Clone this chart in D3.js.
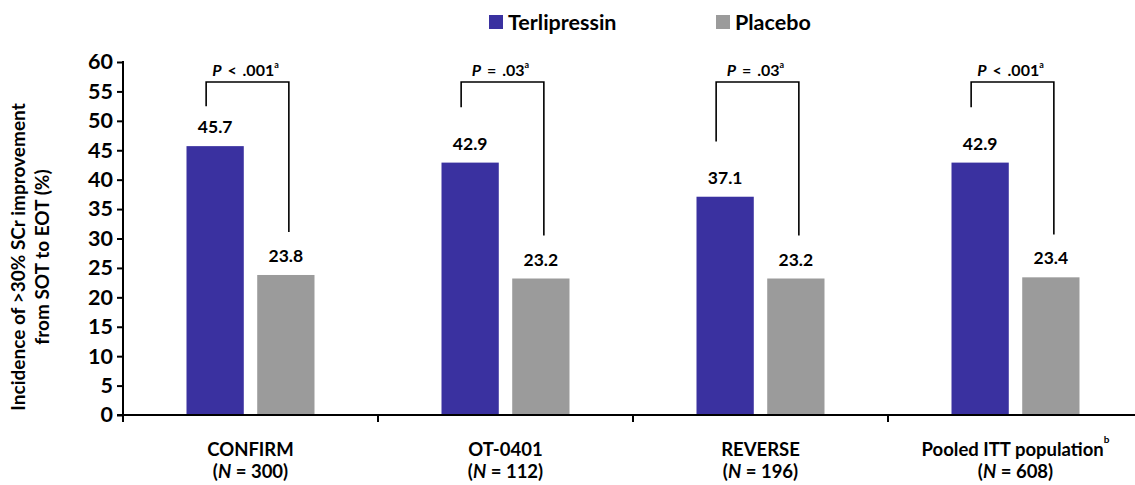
<!DOCTYPE html>
<html>
<head>
<meta charset="utf-8">
<script src="https://cdn.jsdelivr.net/npm/d3@7"></script>
<style>
  body { margin: 0; background: #fff; }
  text { font-family: Lato, "Open Sans", sans-serif; font-weight: bold; fill: #000; }
</style>
</head>
<body>
<svg id="chart"></svg>
<script>
// data
var studies = ["CONFIRM", "OT-0401", "REVERSE", "Pooled ITT population"]
var studyN = [300, 112, 196, 608]
var series = ["Terlipressin", "Placebo"]
var terlipressin = [45.7, 42.9, 37.1, 42.9]
var placebo = [23.8, 23.2, 23.2, 23.4]
var pOp = ["<", "=", "=", "<"]
var pValue = [".001", ".03", ".03", ".001"]
var yTicks = [0, 5, 10, 15, 20, 25, 30, 35, 40, 45, 50, 55, 60]
var colors = ["#3a31a0", "#9b9b9b"]

var width = 1135, height = 485
var svg = d3.select("#chart").attr("width", width).attr("height", height)

var y = d3.scaleLinear().domain([0, 60]).range([415, 62])
var x0 = d3.scaleBand().domain(studies).range([123, 1143]).padding(0)
var x1 = d3.scaleBand().domain(series).range([63.5, 191.5]).paddingInner(0.19)

var rows = studies.map(function (s, i) {
    return { study: s, n: studyN[i], vals: [terlipressin[i], placebo[i]], op: pOp[i], p: pValue[i] }
})

// bars
var groups = svg.selectAll("g.grp")
    .data(rows)
    .enter().append("g")
        .attr("class", "grp")
        .attr("transform", function (d) { return "translate(" + x0(d.study) + ",0)" })

groups.selectAll("rect")
    .data(function (d) { return d.vals.map(function (v, j) { return { s: series[j], v: v, j: j } }) })
    .enter().append("rect")
        .attr("x", function (d) { return x1(d.s) })
        .attr("width", x1.bandwidth())
        .attr("y", function (d) { return y(d.v) })
        .attr("height", function (d) { return y(0) - y(d.v) })
        .attr("fill", function (d) { return colors[d.j] })

groups.selectAll("text.val")
    .data(function (d) { return d.vals.map(function (v, j) { return { s: series[j], v: v } }) })
    .enter().append("text")
        .attr("class", "val")
        .attr("x", function (d) { return x1(d.s) + x1.bandwidth() / 2 })
        .attr("y", function (d) { return y(d.v) - 13 })
        .attr("text-anchor", "middle")
        .style("font-size", "17.5px")
        .text(function (d) { return d.v.toFixed(1) })

// significance brackets
groups.each(function (d) {
    var g = d3.select(this)
    var xl = x1("Terlipressin") + x1.bandwidth() / 2 - 9
    var xr = x1("Placebo") + x1.bandwidth() / 2 + 3
    var top = y(56.6)
    var leftEnd = y(Math.min(52.5, d.vals[0] + 9.4))
    var rightEnd = y(d.vals[1] + 7.3)
    g.append("path")
        .attr("d", "M" + xl + "," + leftEnd + "V" + top + "H" + xr + "V" + rightEnd)
        .attr("fill", "none")
        .attr("stroke", "#000")
        .attr("stroke-width", 1.6)
    var t = g.append("text")
        .attr("x", (xl + xr) / 2 - 2)
        .attr("y", top - 6)
        .attr("text-anchor", "middle")
        .style("font-size", "16px")
        .style("word-spacing", "2px")
    t.append("tspan").style("font-style", "italic").text("P")
    t.append("tspan").text(" " + d.op + " " + d.p)
    t.append("tspan").attr("dy", -8).style("font-size", "9px").text("a")
})

// y axis
var yAxis = svg.append("g")
    .attr("transform", "translate(123,0)")
    .call(d3.axisLeft(y).tickValues(yTicks).tickSize(6).tickPadding(4))
yAxis.select(".domain").remove()
yAxis.selectAll(".tick line").attr("stroke", "#000").attr("stroke-width", 2)
yAxis.selectAll(".tick text").style("font-size", "21.5px").style("font-family", "Lato, sans-serif").attr("fill", "#000")
svg.append("line")
    .attr("x1", 123).attr("x2", 123)
    .attr("y1", y(60) - 1).attr("y2", y(0) + 7)
    .attr("stroke", "#000").attr("stroke-width", 2)

// x axis
svg.append("line")
    .attr("x1", 117).attr("x2", width)
    .attr("y1", y(0)).attr("y2", y(0))
    .attr("stroke", "#000").attr("stroke-width", 2)
svg.selectAll("line.xt")
    .data(studies)
    .enter().append("line")
        .attr("class", "xt")
        .attr("x1", function (d) { return x0(d) }).attr("x2", function (d) { return x0(d) })
        .attr("y1", y(0)).attr("y2", y(0) + 7)
        .attr("stroke", "#000").attr("stroke-width", 2)

var xl = svg.selectAll("text.cat")
    .data(rows)
    .enter().append("text")
        .attr("class", "cat")
        .attr("text-anchor", "middle")
        .style("font-size", "18.5px")
xl.append("tspan")
    .attr("x", function (d) { return x0(d.study) + x0.bandwidth() / 2 })
    .attr("y", 456)
    .text(function (d) { return d.study })
xl.filter(function (d, i) { return i == 3 }).append("tspan")
    .attr("dy", -13).style("font-size", "10px").text("b")
xl.append("tspan")
    .attr("x", function (d) { return x0(d.study) + x0.bandwidth() / 2 })
    .attr("y", 478)
    .html(function (d) { return "(<tspan style='font-style:italic'>N</tspan> = " + d.n + ")" })

// y title
var yt = svg.append("text")
    .attr("transform", "translate(0,257) rotate(-90)")
    .attr("text-anchor", "middle")
    .style("font-size", "19px")
yt.append("tspan").attr("x", 0).attr("y", 25).text("Incidence of >30% SCr improvement")
yt.append("tspan").attr("x", 0).attr("y", 49).text("from SOT to EOT (%)")

// legend
var legX = [489, 716]
var leg = svg.selectAll("g.leg")
    .data(series)
    .enter().append("g")
        .attr("class", "leg")
        .attr("transform", function (d, i) { return "translate(" + legX[i] + ",15)" })
leg.append("rect").attr("width", 14).attr("height", 14).attr("fill", function (d, i) { return colors[i] })
leg.append("text").attr("x", 19).attr("y", 14.5).style("font-size", "21.5px").text(function (d) { return d })
</script>
</body>
</html>
